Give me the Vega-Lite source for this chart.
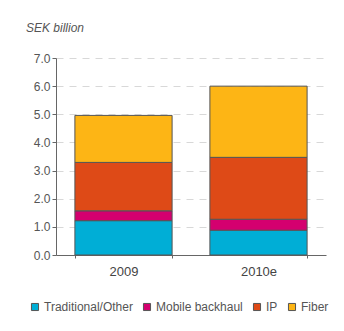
{
  "$schema": "https://vega.github.io/schema/vega-lite/v6.json",
  "width": 270,
  "height": 197,
  "autosize": "none",
  "padding": {"left": 56, "top": 58, "right": 18, "bottom": 76},
  "background": "white",
  "config": {
    "font": "Liberation Sans",
    "view": {"stroke": null},
    "axis": {"labelFont": "Liberation Sans"},
    "legend": {"labelFont": "Liberation Sans"},
    "title": {"font": "Liberation Sans"}
  },
  "title": {
    "text": "SEK billion",
    "anchor": "start",
    "frame": "group",
    "font": "Liberation Sans",
    "fontStyle": "italic",
    "fontWeight": "normal",
    "fontSize": 12,
    "color": "#555555",
    "dx": -30,
    "offset": 17
  },
  "data": {
    "values": [
      {"year": "2009", "segment": "Traditional/Other", "order": 1, "value": 1.22},
      {"year": "2009", "segment": "Mobile backhaul", "order": 2, "value": 0.35},
      {"year": "2009", "segment": "IP", "order": 3, "value": 1.72},
      {"year": "2009", "segment": "Fiber", "order": 4, "value": 1.67},
      {"year": "2010e", "segment": "Traditional/Other", "order": 1, "value": 0.88},
      {"year": "2010e", "segment": "Mobile backhaul", "order": 2, "value": 0.39},
      {"year": "2010e", "segment": "IP", "order": 3, "value": 2.2},
      {"year": "2010e", "segment": "Fiber", "order": 4, "value": 2.53}
    ]
  },
  "mark": {"type": "bar", "stroke": "#555555", "strokeWidth": 1},
  "encoding": {
    "x": {
      "field": "year",
      "type": "nominal",
      "scale": {"paddingInner": 0.28, "paddingOuter": 0.14},
      "axis": {
        "title": null,
        "labelAngle": 0,
        "labelFontSize": 13,
        "labelColor": "#444444",
        "labelPadding": 7,
        "domainColor": "#666666",
        "tickColor": "#666666",
        "tickBand": "extent",
        "tickSize": 3
      }
    },
    "y": {
      "field": "value",
      "type": "quantitative",
      "stack": "zero",
      "scale": {"domain": [0, 7], "nice": false},
      "axis": {
        "title": null,
        "values": [0, 1, 2, 3, 4, 5, 6, 7],
        "format": ".1f",
        "labelFontSize": 12,
        "labelColor": "#555555",
        "domainColor": "#666666",
        "tickColor": "#666666",
        "tickSize": 4,
        "labelPadding": 2,
        "gridColor": "#d8d8d8",
        "gridDash": [7, 6],
        "gridWidth": 1
      }
    },
    "order": {"field": "order", "type": "quantitative"},
    "color": {
      "field": "segment",
      "type": "nominal",
      "sort": ["Traditional/Other", "Mobile backhaul", "IP", "Fiber"],
      "scale": {
        "domain": ["Traditional/Other", "Mobile backhaul", "IP", "Fiber"],
        "range": ["#00AED6", "#D4006F", "#DE4A17", "#FDB515"]
      },
      "legend": {
        "title": null,
        "orient": "none",
        "legendX": -27,
        "legendY": 243,
        "direction": "horizontal",
        "symbolType": "square",
        "symbolSize": 50,
        "symbolStrokeColor": "#555555",
        "symbolStrokeWidth": 1,
        "labelFontSize": 12,
        "labelColor": "#555555",
        "columnPadding": 8,
        "labelOffset": 3
      }
    }
  }
}
